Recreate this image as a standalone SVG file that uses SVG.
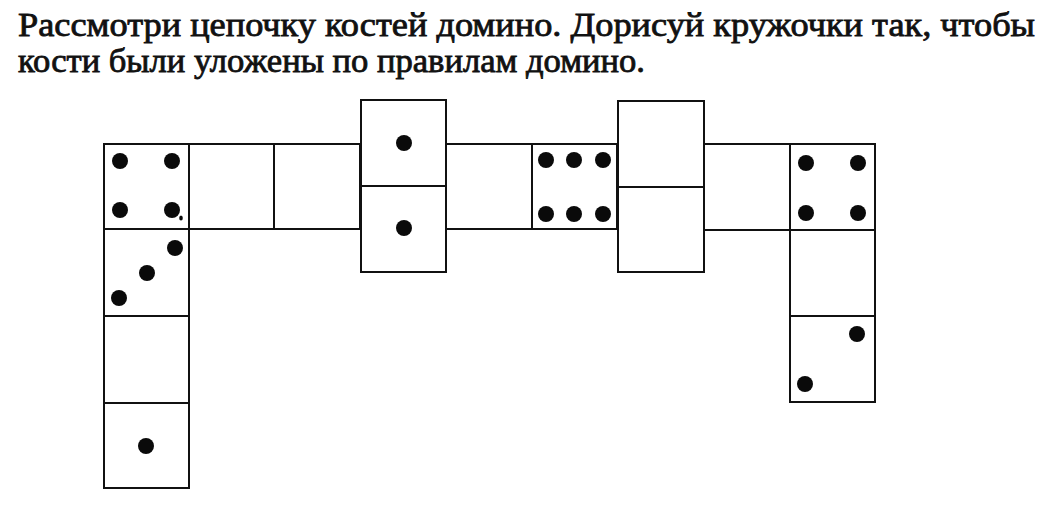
<svg xmlns="http://www.w3.org/2000/svg" width="1054" height="521" viewBox="0 0 1054 521">
<style>
.t{font-family:"Liberation Serif","DejaVu Serif",serif;font-size:33px;font-weight:normal;fill:#111;stroke:#111;stroke-width:0.8}
.c{fill:#fff;stroke:#111;stroke-width:2}
.d{fill:#0a0a0a}
</style>
<rect width="1054" height="521" fill="#fff"/>
<g id="title">
<text class="t" x="18" y="36" textLength="1017" lengthAdjust="spacingAndGlyphs">Рассмотри цепочку костей домино. Дорисуй кружочки так, чтобы</text>
<text class="t" x="18" y="72" textLength="627" lengthAdjust="spacingAndGlyphs">кости были уложены по правилам домино.</text>
</g>
<g id="left-column">
<rect class="c" x="104" y="144" width="85" height="85"/>
<rect class="c" x="104" y="229" width="85" height="87"/>
<rect class="c" x="104" y="316" width="85" height="87"/>
<rect class="c" x="104" y="403" width="85" height="85"/>
<circle class="d" cx="120" cy="161" r="8"/>
<circle class="d" cx="172" cy="161" r="8"/>
<circle class="d" cx="120" cy="210" r="8"/>
<circle class="d" cx="172" cy="210" r="8"/>
<ellipse class="d" cx="181" cy="218" rx="1.8" ry="2.5"/>
<circle class="d" cx="175" cy="248" r="8"/>
<circle class="d" cx="147" cy="273" r="8"/>
<circle class="d" cx="119" cy="298" r="8"/>
<circle class="d" cx="146" cy="446" r="8"/>
</g>
<g id="domino-top-left">
<rect class="c" x="189" y="144" width="85" height="85"/>
<rect class="c" x="274" y="144" width="86" height="85"/>
</g>
<g id="domino-vertical-1">
<rect class="c" x="361" y="100" width="85" height="86"/>
<rect class="c" x="361" y="186" width="85" height="86"/>
<circle class="d" cx="404" cy="143" r="8"/>
<circle class="d" cx="404" cy="228" r="8"/>
</g>
<g id="domino-middle">
<rect class="c" x="446" y="144" width="86" height="85"/>
<rect class="c" x="532" y="144" width="85" height="85"/>
<circle class="d" cx="546" cy="160" r="8"/>
<circle class="d" cx="574" cy="160" r="8"/>
<circle class="d" cx="603" cy="160" r="8"/>
<circle class="d" cx="546" cy="214" r="8"/>
<circle class="d" cx="574" cy="214" r="8"/>
<circle class="d" cx="603" cy="214" r="8"/>
</g>
<g id="domino-vertical-2">
<rect class="c" x="618" y="101" width="86" height="86"/>
<rect class="c" x="618" y="187" width="86" height="85"/>
</g>
<g id="domino-top-right">
<rect class="c" x="704" y="144" width="86" height="86"/>
<rect class="c" x="790" y="144" width="85" height="86"/>
<circle class="d" cx="806" cy="163" r="8"/>
<circle class="d" cx="858" cy="163" r="8"/>
<circle class="d" cx="806" cy="213" r="8"/>
<circle class="d" cx="858" cy="213" r="8"/>
</g>
<g id="right-column">
<rect class="c" x="790" y="230" width="85" height="86"/>
<rect class="c" x="790" y="316" width="85" height="86"/>
<circle class="d" cx="857" cy="334" r="8"/>
<circle class="d" cx="805" cy="384" r="8"/>
</g>
<g id="connectors"/>
</svg>
